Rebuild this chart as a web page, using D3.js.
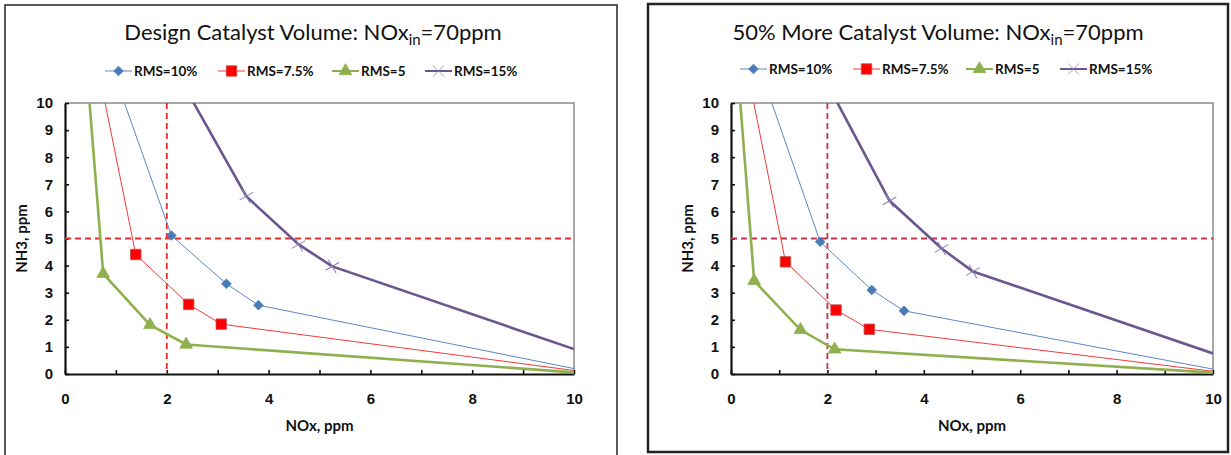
<!DOCTYPE html>
<html>
<head>
<meta charset="utf-8">
<script src="https://cdn.jsdelivr.net/npm/d3@7"></script>
<style>
  body { margin: 0; background: #fff; }
  svg { display: block; font-family: Lato, "Open Sans", sans-serif; }
  .tick-label { font-size: 15px; font-weight: bold; fill: #111; }
  .axis-title { font-size: 15px; font-weight: bold; fill: #111; }
  .legend-text { font-size: 13.5px; font-weight: bold; fill: #111; }
</style>
</head>
<body>
<div id="chart"></div>
<script>
// series names (legend order)
const seriesNames = ['RMS=10%', 'RMS=7.5%', 'RMS=5', 'RMS=15%'];
const xTicks = [0, 2, 4, 6, 8, 10];
const yTicks = [0, 1, 2, 3, 4, 5, 6, 7, 8, 9, 10];
const refX = [2];
const refY = [5];

// design catalyst volume  [NOx, NH3]
const designRms10 = [[0.98, 11], [2.09, 5.11], [3.17, 3.33], [3.8, 2.54], [10, 0.2]];
const designRms75 = [[0.68, 11], [1.39, 4.41], [2.43, 2.57], [3.07, 1.84], [10, 0.13]];
const designRms5 = [[0.44, 11], [0.75, 3.70], [1.67, 1.81], [2.38, 1.09], [10, 0.06]];
const designRms15 = [[2.23, 11], [3.56, 6.56], [4.59, 4.78], [5.25, 3.97], [10, 0.92]];

// 50% more catalyst volume
const moreRms10 = [[0.65, 11], [1.85, 4.88], [2.92, 3.10], [3.59, 2.33], [10, 0.18]];
const moreRms75 = [[0.36, 11], [1.13, 4.14], [2.18, 2.36], [2.87, 1.65], [10, 0.1]];
const moreRms5 = [[0.15, 11], [0.48, 3.44], [1.44, 1.63], [2.15, 0.91], [10, 0.05]];
const moreRms15 = [[1.91, 11], [3.29, 6.39], [4.37, 4.63], [5.02, 3.78], [10, 0.76]];

const styles = [
  {line: '#5b87c3', width: 1, marker: 'diamond', fill: '#4a7ab8', stroke: '#4a7ab8', size: 60},
  {line: '#f03a3a', width: 1, marker: 'square', fill: '#ff0000', stroke: '#c0504d', size: 110},
  {line: '#8fb04e', width: 2.6, marker: 'triangle', fill: '#8fb04e', stroke: '#8fb04e', size: 70},
  {line: '#6a5790', width: 2.6, marker: 'cross', fill: 'none', stroke: '#8f7bb5', size: 80}
];

const W = 1231, H = 455;
const svg = d3.select('#chart').append('svg').attr('width', W).attr('height', H);

const panels = [
  {
    title: 'Design Catalyst Volume: NOx', frame: {x: 5, y: 5, w: 612, h: 470, sw: 1.5},
    plot: {left: 65, right: 574, top: 103, bottom: 374}, cx: 313,
    legendX: [105, 218, 332, 425], refColor: '#ee2a2a',
    series: [designRms10, designRms75, designRms5, designRms15]
  },
  {
    title: '50% More Catalyst Volume: NOx', frame: {x: 648, y: 4, w: 580, h: 448, sw: 2.5},
    plot: {left: 731, right: 1213, top: 103, bottom: 374}, cx: 938,
    legendX: [740, 853, 966, 1060], refColor: '#c8304e',
    series: [moreRms10, moreRms75, moreRms5, moreRms15]
  }
];

function symbolFor(name) {
  if (name === 'diamond') return d3.symbolDiamond2;
  if (name === 'square') return d3.symbolSquare;
  if (name === 'triangle') return d3.symbolTriangle;
  return d3.symbolX;
}

function markerPath(st) {
  return d3.symbol().type(symbolFor(st.marker)).size(st.size)();
}

panels.forEach((p, pi) => {
  const g = svg.append('g');
  const pl = p.plot;

  g.append('rect')
    .attr('x', p.frame.x).attr('y', p.frame.y)
    .attr('width', p.frame.w).attr('height', p.frame.h)
    .attr('fill', '#fff').attr('stroke', '#222').attr('stroke-width', p.frame.sw);

  // title with subscript
  const title = g.append('text')
    .attr('x', p.cx).attr('y', 40)
    .attr('text-anchor', 'middle')
    .style('font-size', '22px').style('fill', '#111');
  title.append('tspan').text(p.title);
  title.append('tspan').attr('dy', 5).style('font-size', '15px').text('in');
  title.append('tspan').attr('dy', -5).text('=70ppm');

  const x = d3.scaleLinear().domain([0, 10]).range([pl.left, pl.right]);
  const y = d3.scaleLinear().domain([0, 10]).range([pl.bottom, pl.top]);

  // plot border (top/right light)
  g.append('path')
    .attr('d', `M${pl.left},${pl.top}H${pl.right}V${pl.bottom}`)
    .attr('fill', 'none').attr('stroke', '#8a8a8a').attr('stroke-width', 1.5);

  // axes
  const yAxis = d3.axisLeft(y).tickValues(yTicks).tickSize(-4).tickPadding(12).tickSizeOuter(0);
  const yG = g.append('g').attr('transform', `translate(${pl.left},0)`).call(yAxis);
  const xAxis = d3.axisBottom(x).tickValues(d3.range(0, 11)).tickSize(-4).tickPadding(14)
    .tickFormat(d => xTicks.includes(d) ? d : '').tickSizeOuter(0);
  const xG = g.append('g').attr('transform', `translate(0,${pl.bottom})`).call(xAxis);
  [xG, yG].forEach(ax => {
    ax.select('.domain').attr('stroke', '#111').attr('stroke-width', 2.2);
    ax.selectAll('.tick line').attr('stroke', '#111').attr('stroke-width', 1.6);
    ax.selectAll('.tick text').attr('class', 'tick-label').attr('font-family', null).attr('font-size', null);
  });
  xG.selectAll('.tick text').attr('dy', '1.05em');

  // axis titles
  g.append('text').attr('class', 'axis-title')
    .attr('x', (pl.left + pl.right) / 2).attr('y', 431)
    .attr('text-anchor', 'middle').text('NOx, ppm');
  g.append('text').attr('class', 'axis-title')
    .attr('transform', `translate(${pl.left - 38},${(pl.top + pl.bottom) / 2}) rotate(-90)`)
    .attr('text-anchor', 'middle').text('NH3, ppm');

  // clip
  const clipId = 'clip' + pi;
  g.append('clipPath').attr('id', clipId).append('rect')
    .attr('x', pl.left).attr('y', pl.top)
    .attr('width', pl.right - pl.left).attr('height', pl.bottom - pl.top);

  // reference lines
  const refG = g.append('g').attr('clip-path', `url(#${clipId})`);
  refG.selectAll('.refx').data(refX).enter().append('line')
    .attr('x1', d => x(d)).attr('x2', d => x(d))
    .attr('y1', pl.top).attr('y2', pl.bottom)
    .attr('stroke', p.refColor).attr('stroke-width', 1.8).attr('stroke-dasharray', '6,4');
  refG.selectAll('.refy').data(refY).enter().append('line')
    .attr('y1', d => y(d)).attr('y2', d => y(d))
    .attr('x1', pl.left).attr('x2', pl.right)
    .attr('stroke', p.refColor).attr('stroke-width', 1.8).attr('stroke-dasharray', '6,4');

  const line = d3.line().x(d => x(d[0])).y(d => y(d[1]));
  const linesG = g.append('g').attr('clip-path', `url(#${clipId})`);
  const markG = g.append('g');

  p.series.forEach((data, si) => {
    const st = styles[si];
    linesG.append('path').datum(data)
      .attr('d', line).attr('fill', 'none')
      .attr('stroke', st.line).attr('stroke-width', st.width);
  });
  p.series.forEach((data, si) => {
    const st = styles[si];
    markG.selectAll(null)
      .data(data.filter(d => d[1] <= 10 && d[0] < 10))
      .enter().append('path')
      .attr('transform', d => `translate(${x(d[0])},${y(d[1])})` + (st.marker === 'cross' ? ' rotate(15)' : ''))
      .attr('d', markerPath(st))
      .attr('fill', st.fill).attr('stroke', st.stroke)
      .attr('stroke-width', st.marker === 'cross' ? 1 : 0.8);
  });

  // legend
  const lg = g.append('g');
  seriesNames.forEach((name, si) => {
    const st = styles[si];
    const lx = p.legendX[si], ly = 71 - pi * 2;
    lg.append('line').attr('x1', lx).attr('x2', lx + 27).attr('y1', ly).attr('y2', ly)
      .attr('stroke', st.line).attr('stroke-width', Math.min(st.width, 2));
    lg.append('path').attr('transform', `translate(${lx + 13.5},${ly})`)
      .attr('d', markerPath(st))
      .attr('fill', st.fill).attr('stroke', st.stroke).attr('stroke-width', 0.8);
    lg.append('text').attr('class', 'legend-text')
      .attr('x', lx + 29).attr('y', ly + 4.5).text(name);
  });
});
</script>
</body>
</html>
